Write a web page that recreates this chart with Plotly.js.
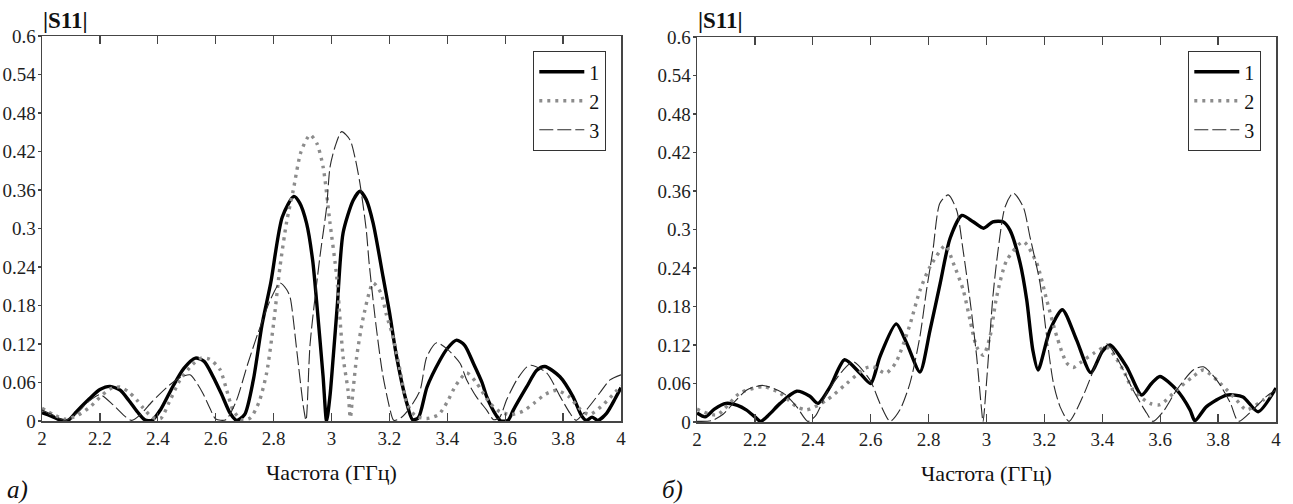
<!DOCTYPE html>
<html>
<head>
<meta charset="utf-8">
<script src="https://cdn.plot.ly/plotly-3.0.1.min.js"></script>
<style>
  html, body { margin: 0; padding: 0; background: #fff; }
  #chart { width: 1293px; height: 504px; }
</style>
</head>
<body>
<div id="chart"></div>
<script>
// ---------- tick labels ----------
const xTicks = [2, 2.2, 2.4, 2.6, 2.8, 3, 3.2, 3.4, 3.6, 3.8, 4];
const xTickText = ["2", "2.2", "2.4", "2.6", "2.8", "3", "3.2", "3.4", "3.6", "3.8", "4"];
const yTicks = [0, 0.06, 0.12, 0.18, 0.24, 0.3, 0.36, 0.42, 0.48, 0.54, 0.6];
const yTickText = ["0", "0.06", "0.12", "0.18", "0.24", "0.3", "0.36", "0.42", "0.48", "0.54", "0.6"];

const seriesNames = ["1", "2", "3"];
const xTitle = "Частота (ГГц)";
const yTitle = "|S11|";
const panelLabels = ["а)", "б)"];

// ---------- panel а), curve 1 ----------
const a1_f = [2.00,2.03,2.06,2.09,2.12,2.16,2.20,2.235,2.27,2.30,2.33,2.355,2.38,2.41,2.45,2.49,2.53,2.56,2.59,2.62,2.65,2.672,2.70,2.73,2.76,2.79,2.83,2.87,2.89,2.914,2.935,2.949,2.971,2.983,2.995,3.006,3.02,3.04,3.075,3.098,3.12,3.144,3.178,3.20,3.225,3.26,3.28,3.30,3.33,3.375,3.40,3.432,3.46,3.49,3.52,3.536,3.57,3.585,3.61,3.628,3.674,3.709,3.737,3.789,3.834,3.864,3.88,3.90,3.92,3.95,3.98,4.00];
const a1_s = [0.013,0.008,0.002,0.001,0.015,0.033,0.049,0.054,0.048,0.032,0.014,0.002,0.001,0.018,0.052,0.082,0.098,0.093,0.070,0.042,0.012,0.001,0.010,0.064,0.150,0.215,0.318,0.350,0.340,0.308,0.250,0.184,0.069,0.000,0.040,0.100,0.180,0.293,0.344,0.358,0.345,0.308,0.225,0.170,0.100,0.028,0.002,0.005,0.053,0.095,0.113,0.126,0.118,0.090,0.060,0.038,0.008,0.000,0.001,0.017,0.053,0.079,0.085,0.069,0.038,0.008,0.001,0.006,0.001,0.012,0.035,0.052];

// ---------- panel а), curve 2 ----------
const a2_f = [2.00,2.04,2.08,2.12,2.166,2.20,2.235,2.27,2.30,2.327,2.35,2.38,2.41,2.44,2.477,2.52,2.55,2.58,2.615,2.638,2.66,2.69,2.72,2.75,2.776,2.80,2.822,2.845,2.868,2.895,2.926,2.95,2.971,2.995,3.018,3.04,3.057,3.065,3.075,3.087,3.11,3.144,3.17,3.19,3.21,3.237,3.26,3.29,3.33,3.37,3.40,3.43,3.467,3.50,3.547,3.58,3.62,3.66,3.70,3.74,3.778,3.82,3.86,3.89,3.93,3.97,4.00];
const a2_s = [0.020,0.010,0.003,0.008,0.022,0.037,0.050,0.053,0.045,0.033,0.020,0.006,0.004,0.030,0.064,0.088,0.098,0.096,0.080,0.048,0.017,0.002,0.005,0.030,0.075,0.152,0.240,0.310,0.360,0.420,0.446,0.432,0.396,0.308,0.225,0.100,0.048,0.005,0.050,0.100,0.162,0.215,0.200,0.165,0.135,0.079,0.028,0.008,0.004,0.010,0.030,0.056,0.075,0.060,0.028,0.015,0.010,0.015,0.028,0.042,0.048,0.038,0.018,0.010,0.022,0.040,0.055];

// ---------- panel а), curve 3 ----------
const a3_f = [2.00,2.04,2.08,2.12,2.16,2.20,2.246,2.29,2.31,2.34,2.38,2.43,2.47,2.511,2.535,2.556,2.58,2.60,2.635,2.67,2.71,2.746,2.79,2.822,2.845,2.857,2.88,2.903,2.912,2.926,2.96,2.983,2.995,3.012,3.035,3.064,3.081,3.098,3.12,3.13,3.153,3.176,3.20,3.215,3.24,3.27,3.306,3.329,3.363,3.40,3.444,3.467,3.50,3.536,3.56,3.58,3.605,3.64,3.674,3.69,3.743,3.79,3.824,3.845,3.88,3.927,3.962,4.00];
const a3_s = [0.017,0.009,0.001,0.012,0.030,0.041,0.025,0.006,0.001,0.010,0.030,0.052,0.066,0.072,0.059,0.043,0.020,0.003,0.002,0.030,0.088,0.137,0.190,0.215,0.205,0.193,0.110,0.022,0.001,0.120,0.256,0.333,0.396,0.427,0.451,0.438,0.411,0.371,0.298,0.246,0.152,0.075,0.022,0.001,0.005,0.020,0.048,0.100,0.122,0.112,0.090,0.064,0.038,0.017,0.002,0.005,0.033,0.064,0.084,0.087,0.075,0.038,0.012,0.001,0.017,0.044,0.064,0.072];

// ---------- panel б), curve 1 ----------
const b1_f = [2.00,2.028,2.06,2.10,2.14,2.17,2.20,2.22,2.25,2.287,2.344,2.39,2.418,2.46,2.51,2.563,2.60,2.632,2.688,2.724,2.77,2.805,2.84,2.874,2.915,2.954,2.99,3.022,3.057,3.081,3.116,3.139,3.16,3.178,3.219,3.262,3.311,3.36,3.40,3.427,3.484,3.536,3.57,3.599,3.657,3.703,3.72,3.76,3.83,3.886,3.938,4.00];
const b1_s = [0.014,0.008,0.020,0.029,0.026,0.019,0.008,0.001,0.012,0.029,0.048,0.040,0.029,0.055,0.097,0.076,0.060,0.102,0.153,0.123,0.078,0.143,0.216,0.286,0.322,0.312,0.302,0.312,0.312,0.299,0.248,0.190,0.112,0.081,0.143,0.175,0.128,0.077,0.110,0.120,0.086,0.042,0.060,0.071,0.050,0.019,0.002,0.024,0.042,0.039,0.016,0.053];

// ---------- panel б), curve 2 ----------
const b2_f = [2.00,2.068,2.148,2.228,2.287,2.344,2.379,2.448,2.517,2.583,2.608,2.652,2.686,2.733,2.77,2.805,2.858,2.885,2.92,2.943,2.966,2.989,3.012,3.035,3.07,3.127,3.173,3.208,3.243,3.277,3.30,3.323,3.37,3.415,3.472,3.506,3.565,3.60,3.657,3.714,3.749,3.806,3.864,3.898,3.955,4.00];
const b2_s = [0.020,0.011,0.045,0.055,0.045,0.024,0.019,0.034,0.060,0.084,0.086,0.076,0.092,0.148,0.205,0.242,0.275,0.248,0.205,0.159,0.117,0.104,0.133,0.195,0.252,0.281,0.248,0.190,0.133,0.092,0.085,0.092,0.107,0.117,0.081,0.050,0.029,0.027,0.050,0.071,0.081,0.061,0.034,0.019,0.034,0.048];

// ---------- panel б), curve 3 ----------
const b3_f = [2.00,2.05,2.09,2.125,2.172,2.228,2.298,2.344,2.383,2.41,2.448,2.505,2.54,2.598,2.632,2.667,2.701,2.736,2.77,2.793,2.815,2.839,2.868,2.897,2.919,2.943,2.966,2.983,2.988,3.0,3.022,3.04,3.064,3.092,3.127,3.15,3.185,3.208,3.231,3.254,3.285,3.333,3.38,3.415,3.46,3.506,3.553,3.575,3.61,3.657,3.714,3.749,3.796,3.842,3.87,3.92,3.967,4.00];
const b3_s = [0.001,0.002,0.012,0.029,0.050,0.057,0.045,0.024,0.001,0.010,0.045,0.081,0.094,0.065,0.029,0.001,0.019,0.061,0.133,0.206,0.268,0.341,0.354,0.330,0.268,0.190,0.102,0.019,0.000,0.061,0.195,0.268,0.335,0.357,0.335,0.289,0.216,0.133,0.061,0.024,0.001,0.040,0.092,0.122,0.092,0.050,0.014,0.001,0.016,0.050,0.081,0.086,0.065,0.030,0.001,0.019,0.040,0.050];

// ---------- styles ----------
const FONT = "Liberation Serif";
const styles = [
  {color: "#000000", width: 3.4, dash: "solid"},
  {color: "#8c8c8c", width: 3.4, dash: "3px,5px"},
  {color: "#2a2a2a", width: 1.1, dash: "14px,4px"}
];

function mk(f, s, i, xa, ya, leg) {
  return {
    x: f, y: s, type: "scatter", mode: "lines",
    name: seriesNames[i], legendgroup: "g" + i, legend: leg,
    xaxis: xa, yaxis: ya,
    line: {color: styles[i].color, width: styles[i].width, dash: styles[i].dash, shape: "spline", smoothing: 0.7},
    hoverinfo: "skip"
  };
}

const traces = [
  mk(a1_f, a1_s, 0, "x", "y", "legend"),
  mk(a2_f, a2_s, 1, "x", "y", "legend"),
  mk(a3_f, a3_s, 2, "x", "y", "legend"),
  mk(b1_f, b1_s, 0, "x2", "y2", "legend2"),
  mk(b2_f, b2_s, 1, "x2", "y2", "legend2"),
  mk(b3_f, b3_s, 2, "x2", "y2", "legend2")
];

const W = 1293, H = 504;
const AX = "#454545";
const tickFont = {family: FONT, size: 19, color: "#1e1e1e"};

function xAxis(domain, anchor) {
  return {
    domain: domain, anchor: anchor, range: [2, 4], fixedrange: true,
    tickmode: "array", tickvals: xTicks, ticktext: xTickText,
    ticks: "inside", ticklen: 8, tickwidth: 1.3, tickcolor: AX,
    showline: true, linecolor: AX, linewidth: 1.5, mirror: "ticks",
    showgrid: false, zeroline: false, tickfont: tickFont,
    title: {text: xTitle, font: {family: FONT, size: 22, color: "#111"}, standoff: 16},
    automargin: false
  };
}
function yAxis(domain, anchor) {
  return {
    domain: domain, anchor: anchor, range: [0, 0.6], fixedrange: true,
    tickmode: "array", tickvals: yTicks, ticktext: yTickText,
    ticks: "outside", ticklen: 3, tickwidth: 1.3, tickcolor: AX,
    ticklabelstandoff: -2,
    showline: true, linecolor: AX, linewidth: 1.5, mirror: true,
    showgrid: false, zeroline: false, tickfont: tickFont, automargin: false
  };
}
function yRight(over, anchor) {
  return {
    overlaying: over, anchor: anchor, side: "right", range: [0, 0.6], fixedrange: true,
    tickmode: "array", tickvals: yTicks, ticks: "inside", ticklen: 10, tickwidth: 1.3, tickcolor: AX,
    showticklabels: false, showline: false, showgrid: false, zeroline: false
  };
}

const yDom = [1 - 421 / H, 1 - 36 / H];
const yDom2 = [1 - 422 / H, 1 - 37 / H];

function legendCfg(xr) {
  return {
    x: xr / W, xanchor: "right", y: 1 - 51 / H, yanchor: "top",
    bgcolor: "#fff", bordercolor: "#333", borderwidth: 1.3,
    font: {family: FONT, size: 20, color: "#111"},
    itemwidth: 45,
    traceorder: "grouped", tracegroupgap: 0, itemclick: false, itemdoubleclick: false
  };
}

const layout = {
  width: W, height: H,
  margin: {l: 0, r: 0, t: 0, b: 0, pad: 0},
  paper_bgcolor: "#fff", plot_bgcolor: "#fff",
  font: {family: FONT, color: "#111"},
  showlegend: true,
  xaxis: xAxis([42 / W, 621 / W], "y"),
  yaxis: yAxis(yDom, "x"),
  xaxis2: xAxis([697 / W, 1276 / W], "y2"),
  yaxis2: yAxis(yDom2, "x2"),
  yaxis3: yRight("y", "x"),
  yaxis4: yRight("y2", "x2"),
  legend: legendCfg(606),
  legend2: legendCfg(1261),
  annotations: [
    {text: "<b>" + yTitle + "</b>", xref: "paper", yref: "paper", x: 41 / W, y: 1 - 21 / H,
     xanchor: "left", yanchor: "middle", showarrow: false, font: {family: FONT, size: 23, color: "#111"}},
    {text: "<b>" + yTitle + "</b>", xref: "paper", yref: "paper", x: 696 / W, y: 1 - 21 / H,
     xanchor: "left", yanchor: "middle", showarrow: false, font: {family: FONT, size: 23, color: "#111"}},
    {text: "<i>" + panelLabels[0] + "</i>", xref: "paper", yref: "paper", x: 5 / W, y: 1 - 490 / H,
     xanchor: "left", yanchor: "middle", showarrow: false, font: {family: FONT, size: 25, color: "#111"}},
    {text: "<i>" + panelLabels[1] + "</i>", xref: "paper", yref: "paper", x: 660 / W, y: 1 - 490 / H,
     xanchor: "left", yanchor: "middle", showarrow: false, font: {family: FONT, size: 25, color: "#111"}}
  ]
};

Plotly.newPlot("chart", traces, layout, {staticPlot: true, displayModeBar: false});
</script>
</body>
</html>
